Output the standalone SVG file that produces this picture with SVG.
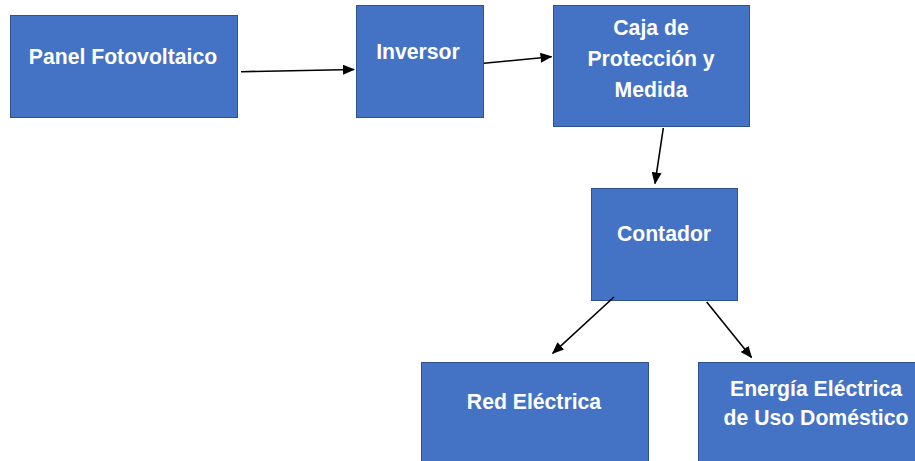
<svg xmlns="http://www.w3.org/2000/svg" width="915" height="461" viewBox="0 0 915 461">
<style>
.box{fill:#4472C4;stroke:#2F528F;stroke-width:1}
.lbl{fill:#FFFFFF;font-family:"Liberation Sans",Arial,sans-serif;font-weight:bold;font-size:21.2px;text-anchor:middle}
.conn{stroke:#000000;stroke-width:1.6;fill:none;marker-end:url(#ah)}
</style>
<defs>
<marker id="ah" markerUnits="userSpaceOnUse" markerWidth="12" markerHeight="10" refX="11" refY="5" orient="auto">
<path d="M0,0 L12,5 L0,10 Z" fill="#000000"/>
</marker>
</defs>
<rect width="915" height="461" fill="#FFFFFF"/>
<g id="panel">
<rect class="box" x="10.5" y="15.5" width="227" height="102"/>
<text class="lbl" x="123" y="64">Panel Fotovoltaico</text>
</g>
<g id="inversor">
<rect class="box" x="356.5" y="5.5" width="127" height="112"/>
<text class="lbl" x="418" y="59">Inversor</text>
</g>
<g id="caja">
<rect class="box" x="553.5" y="5.5" width="196" height="121"/>
<text class="lbl" x="651" y="35">Caja de</text>
<text class="lbl" x="651" y="66">Protección y</text>
<text class="lbl" x="651" y="97">Medida</text>
</g>
<g id="contador">
<rect class="box" x="591.5" y="188.5" width="146" height="112"/>
<text class="lbl" x="664" y="241">Contador</text>
</g>
<g id="red">
<rect class="box" x="421.5" y="362.5" width="227" height="110"/>
<text class="lbl" x="534" y="409">Red Eléctrica</text>
</g>
<g id="energia">
<rect class="box" x="698.5" y="362.5" width="236" height="110"/>
<text class="lbl" x="816" y="396">Energía Eléctrica</text>
<text class="lbl" x="816" y="425">de Uso Doméstico</text>
</g>
<g id="connectors">
<line class="conn" x1="241" y1="71.7" x2="354" y2="69.5"/>
<line class="conn" x1="484" y1="63.3" x2="551.5" y2="56.7"/>
<line class="conn" x1="663.3" y1="128" x2="655" y2="183.5"/>
<line class="conn" x1="614" y1="297" x2="552.7" y2="353.3"/>
<line class="conn" x1="706.7" y1="302" x2="751.5" y2="357.5"/>
</g>
</svg>
